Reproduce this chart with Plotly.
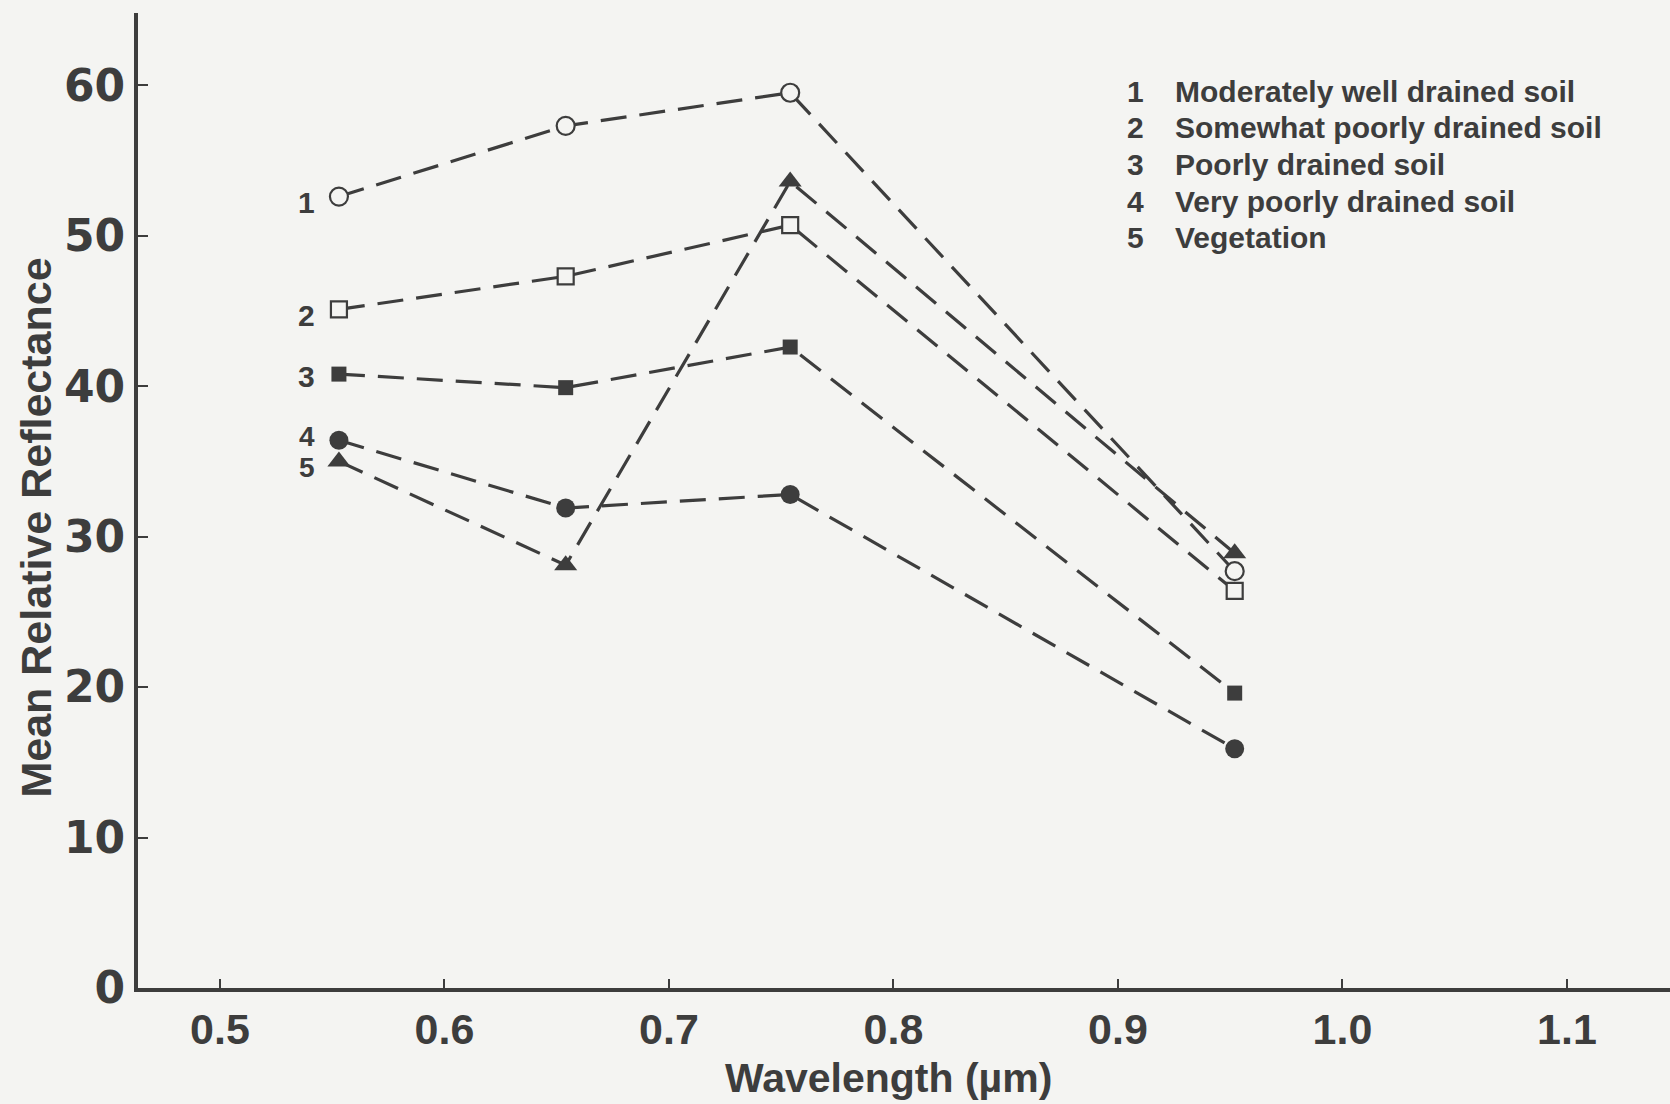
import plotly.graph_objects as go

# ---- data ----
wavelength = [0.553, 0.654, 0.754, 0.952]
series_names = [
    "Moderately well drained soil",
    "Somewhat poorly drained soil",
    "Poorly drained soil",
    "Very poorly drained soil",
    "Vegetation",
]
series_ids = ["1", "2", "3", "4", "5"]
s1 = [52.6, 57.3, 59.5, 27.7]
s2 = [45.1, 47.3, 50.7, 26.4]
s3 = [40.8, 39.9, 42.6, 19.6]
s4 = [36.4, 31.9, 32.8, 15.9]
s5 = [35.0, 28.1, 53.6, 28.9]
values = [s1, s2, s3, s4, s5]
x_ticks = [0.5, 0.6, 0.7, 0.8, 0.9, 1.0, 1.1]
x_ticklabels = ["0.5", "0.6", "0.7", "0.8", "0.9", "1.0", "1.1"]
y_ticks = [0, 10, 20, 30, 40, 50, 60]
x_title = "Wavelength (µm)"
y_title = "Mean Relative Reflectance"

INK = "#3d3d3d"
BG = "#f4f4f2"
FONT = "Liberation Sans, Arial, sans-serif"

styles = [
    dict(symbol="circle-open", size=18),
    dict(symbol="square-open", size=16),
    dict(symbol="square", size=15),
    dict(symbol="circle", size=19),
    dict(symbol="triangle-up", size=20),
]
label_yshift = [-6, -6, -2, 4, -6]
label_size = [30, 30, 30, 28, 28]

fig = go.Figure()
for name, vals, st in zip(series_names, values, styles):
    open_ = st["symbol"].endswith("open")
    fig.add_trace(go.Scatter(
        x=wavelength, y=vals, name=name, mode="lines+markers",
        line=dict(color=INK, width=3.2, dash="26px,13px"),
        marker=dict(
            symbol=st["symbol"].replace("-open", "") if open_ else st["symbol"],
            size=st["size"],
            color=BG if open_ else INK,
            line=dict(color=INK, width=2.2 if open_ else 0),
        ),
        showlegend=False,
        hoverinfo="skip",
    ))

annotations = []
# series number labels next to first points
for sid, vals, ys, fs in zip(series_ids, values, label_yshift, label_size):
    annotations.append(dict(
        x=wavelength[0], y=vals[0], xref="x", yref="y", text=sid,
        showarrow=False, xshift=-32, yshift=ys,
        font=dict(family=FONT, size=fs, color=INK, weight="bold"),
    ))

# legend as text block (top right)
legend_y = [59.6, 57.2, 54.7, 52.3, 49.9]
for sid, name, ly in zip(series_ids, series_names, legend_y):
    annotations.append(dict(
        x=0.908, y=ly, xref="x", yref="y", text=sid, showarrow=False,
        xanchor="center", font=dict(family=FONT, size=30, color=INK, weight="bold"),
    ))
    annotations.append(dict(
        x=0.9246, y=ly, xref="x", yref="y", text=name, showarrow=False,
        xanchor="left", font=dict(family=FONT, size=30, color=INK, weight="bold"),
    ))

# axis titles
annotations.append(dict(
    x=0.798, y=-0.0926, xref="x", yref="paper", text=x_title, showarrow=False,
    xanchor="center", yanchor="middle",
    font=dict(family=FONT, size=41, color=INK, weight="bold"),
))
annotations.append(dict(
    x=-0.0666, y=30.6, xref="paper", yref="y", text=y_title, showarrow=False,
    textangle=-90, xanchor="center", yanchor="middle",
    font=dict(family=FONT, size=43, color=INK, weight="bold"),
))

fig.update_layout(
    width=1670, height=1104,
    margin=dict(l=138, r=0, t=13, b=116),
    paper_bgcolor=BG, plot_bgcolor=BG,
    annotations=annotations,
    hovermode=False,
    xaxis=dict(
        range=[0.4635, 1.1459], tickvals=x_ticks, ticktext=x_ticklabels,
        showgrid=False, zeroline=False, showline=True, linecolor=INK, linewidth=4,
        ticks="inside", ticklen=9, tickwidth=2, tickcolor=INK,
        tickfont=dict(family=FONT, size=43, color=INK, weight="bold"),
    ),
    yaxis=dict(
        range=[0, 64.8], tickvals=y_ticks,
        showgrid=False, zeroline=False, showline=True, linecolor=INK, linewidth=4,
        ticks="inside", ticklen=10, tickwidth=2, tickcolor=INK,
        tickfont=dict(family="DejaVu Sans, sans-serif", size=44, color=INK, weight="bold"),
    ),
)

fig.write_html("out.html", config={"displayModeBar": False},
               post_script="document.body.style.margin='0';")
